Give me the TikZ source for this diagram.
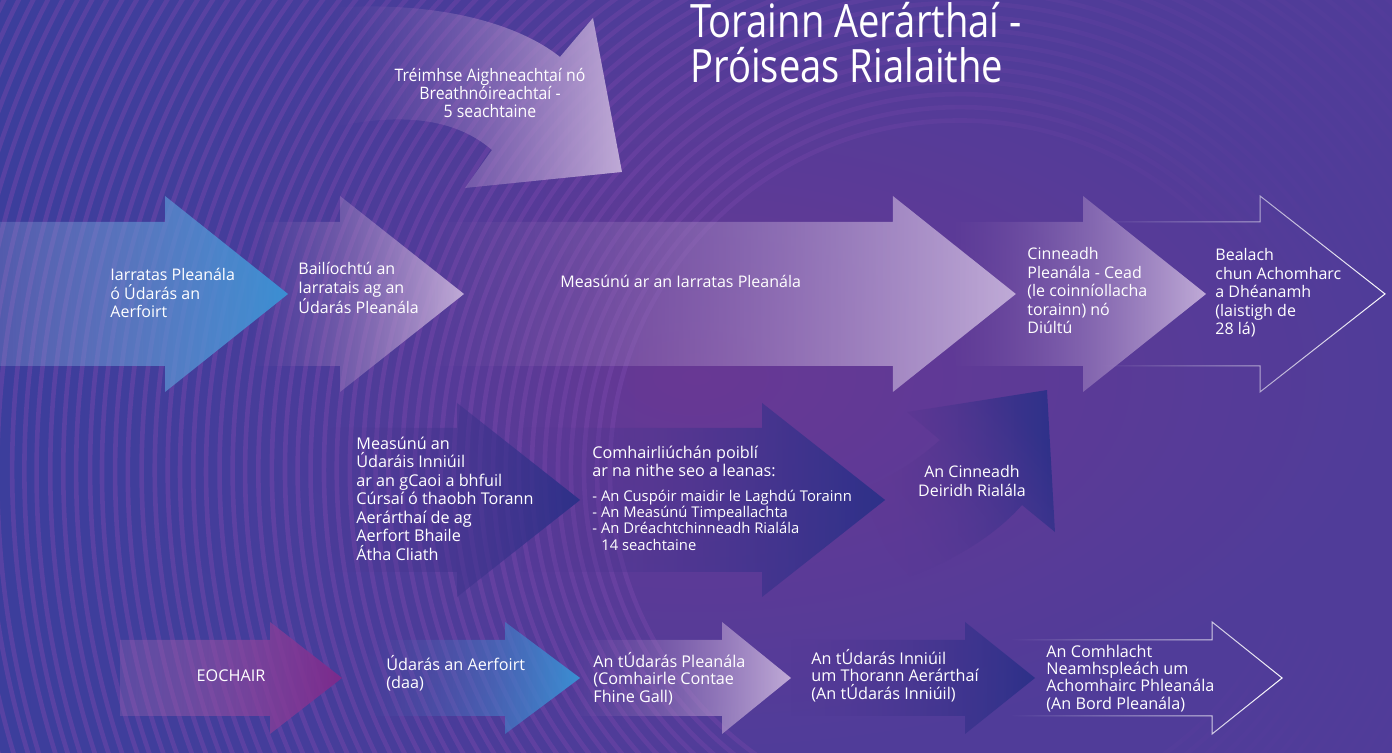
\documentclass[tikz,border=0pt]{standalone}
\usepackage{fontspec}
\setmainfont{Open Sans}
\newfontfamily\titlefont{Open Sans}[FakeStretch=0.83]
\newfontfamily\arcfont{Open Sans}[FakeStretch=0.92]
\usetikzlibrary{fadings}

\definecolor{bginner}{HTML}{683894}
\definecolor{bgouter}{HTML}{503C99}
\definecolor{bgblue}{HTML}{3C3F9D}
\definecolor{ringpurple}{HTML}{7A48AC}
\definecolor{lavender}{HTML}{C0ABD7}
\definecolor{midpurple}{HTML}{7E58AC}
\definecolor{skyblue}{HTML}{3A8FD3}
\definecolor{navy}{HTML}{2D3189}
\definecolor{plum}{HTML}{7B2A8C}

\tikzfading[name=fadein, left color=transparent!100, right color=transparent!0]
\tikzfading[name=halffade, left color=transparent!70, right color=transparent!0]
\tikzfading[name=fadeout, left color=transparent!0, right color=transparent!100]

% straight block arrow: options, body start, head base, tip, centre, half body, half head
\newcommand{\flatarrow}[7][]{%
  \path[#1] (#2,{#5-#6}) -- (#3,{#5-#6}) -- (#3,{#5-#7}) -- (#4,#5)
    -- (#3,{#5+#7}) -- (#3,{#5+#6}) -- (#2,{#5+#6}) -- cycle;}

\begin{document}
\begin{tikzpicture}[x=0.5pt, y=-0.5pt,
    stagetext/.style={text=white, align=left, inner sep=0pt, anchor=base west,
      font=\fontsize{8}{9.25}\selectfont},
    midtext/.style={stagetext, font=\fontsize{8.1}{9.25}\selectfont},
    bullettext/.style={stagetext, font=\fontsize{7.4}{8.1}\selectfont},
    keytext/.style={stagetext, font=\fontsize{8.1}{8.6}\selectfont},
    titletext/.style={stagetext, font=\titlefont\fontsize{23}{22.5}\selectfont},
    ring/.style={ringpurple, line width=2.3pt, opacity=0.45, path fading=fadeout},
    outline/.style={draw=white, line width=0.5pt, path fading=fadein},
    fadeto/.style={left color=#1!40!bginner, right color=#1, path fading=fadein}]
    \def\rowmain{294}
    \def\rowmid{500}
    \def\rowkey{678}
    %--------------------
    % background
    \shade[inner color=bginner, outer color=bgouter] (0,0) rectangle (1392,753);
    \fill[bgblue, path fading=fadeout] (0,0) rectangle (650,753);
    \begin{scope}
      \clip (0,0) rectangle (1392,753);
      \foreach \r in {350,363,...,1300}
        \draw[ring] (960,470) circle (\r);
    \end{scope}
    \useasboundingbox (0,0) rectangle (1392,753);

    %--------------------
    % curved arrow at the top
    \path[left color=midpurple, right color=lavender, path fading=fadein]
      (330,8) .. controls (440,0) and (520,25) .. (560,57) -- (593,18) -- (622,172)
      -- (465,188) -- (492,150) .. controls (455,118) and (400,112) .. (330,128) -- cycle;

    %--------------------
    % main row
    \flatarrow[outline]{1100}{1260}{1385}{\rowmain}{72}{98}
    \flatarrow[fadeto=lavender]{950}{1083}{1206}{\rowmain}{72}{98}
    \flatarrow[fadeto=lavender]{420}{893}{1016}{\rowmain}{72}{98}
    \flatarrow[fadeto=lavender]{250}{340}{464}{\rowmain}{72}{98}
    \flatarrow[left color=lavender!60!skyblue, right color=skyblue, path fading=halffade]{0}{165}{288}{\rowmain}{72}{98}

    %--------------------
    % middle row
    \path[left color=bginner, right color=navy, path fading=fadein, fading angle=40]
      (1022,505) -- (1055,532) -- (1047,390) -- (907,412) -- (940,440)
      .. controls (915,462) and (890,478) .. (860,490) -- (900,580)
      .. controls (960,560) and (1000,530) .. (1022,505) -- cycle;
    \flatarrow[fadeto=navy]{520}{762}{885}{\rowmid}{72}{97}
    \flatarrow[fadeto=navy]{330}{457}{580}{\rowmid}{72}{97}

    %--------------------
    % key row
    \flatarrow[outline]{1010}{1212}{1282}{\rowkey}{38}{56}
    \flatarrow[fadeto=navy]{790}{965}{1035}{\rowkey}{38}{56}
    \flatarrow[fadeto=lavender]{570}{722}{791}{\rowkey}{38}{56}
    \flatarrow[fadeto=skyblue]{362}{505}{580}{\rowkey}{38}{56}
    \flatarrow[left color=lavender!50!plum, right color=plum, path fading=halffade]{120}{270}{342}{\rowkey}{38}{56}

    %--------------------
    % texts (placed at the baseline of their last line)
    \node[titletext] (title) at (690,83) {Torainn Aerárthaí -\\Próiseas Rialaithe};
    \node[stagetext, align=center, anchor=base, font=\arcfont\fontsize{8.6}{9}\selectfont]
      (tréimhse) at (490,118) {Tréimhse Aighneachtaí nó\\Breathnóireachtaí -\\5 seachtaine};

    \node[stagetext] (iarratas) at (110,318) {Iarratas Pleanála\\ó Údarás an\\Aerfoirt};
    \node[stagetext] (bailíochtú) at (298,314) {Bailíochtú an\\Iarratais ag an\\Údarás Pleanála};
    \node[stagetext] (measúnú) at (560,288) {Measúnú ar an Iarratas Pleanála};
    \node[stagetext] (cinneadh) at (1027,334) {Cinneadh\\Pleanála - Cead\\(le coinníollacha\\torainn) nó\\Diúltú};
    \node[stagetext] (bealach) at (1215,335) {Bealach\\chun Achomharc\\a Dhéanamh\\(laistigh de\\28 lá)};

    \node[midtext] (údaráis) at (356,560) {Measúnú an\\Údaráis Inniúil\\ar an gCaoi a bhfuil\\Cúrsaí ó thaobh Torann\\Aerárthaí de ag\\Aerfort Bhaile\\Átha Cliath};
    \node[midtext] (comhairliúchán) at (592,477) {Comhairliúchán poiblí\\ar na nithe seo a leanas:};
    \node[bullettext] (nithe) at (592,550) {- An Cuspóir maidir le Laghdú Torainn\\- An Measúnú Timpeallachta\\- An Dréachtchinneadh Rialála\\\hspace*{0.6em}14 seachtaine};
    \node[stagetext, align=center, anchor=base] (deiridh) at (972,496) {An Cinneadh\\Deiridh Rialála};

    \node[keytext, anchor=base] (eochair) at (231,681) {EOCHAIR};
    \node[keytext] (aerfort) at (386,688) {Údarás an Aerfoirt\\(daa)};
    \node[keytext] (pleanála) at (593,702) {An tÚdarás Pleanála\\(Comhairle Contae\\Fhine Gall)};
    \node[keytext] (inniúil) at (811,699) {An tÚdarás Inniúil\\um Thorann Aerárthaí\\(An tÚdarás Inniúil)};
    \node[keytext] (comhlacht) at (1046,709) {An Comhlacht\\Neamhspleách um\\Achomhairc Phleanála\\(An Bord Pleanála)};
\end{tikzpicture}
\end{document}
